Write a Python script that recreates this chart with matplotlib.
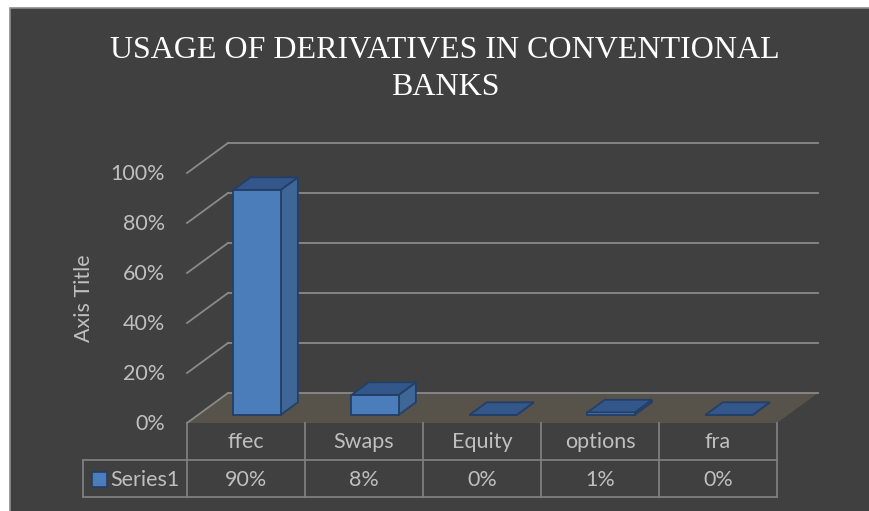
import matplotlib.pyplot as plt
from matplotlib.patches import Polygon, Rectangle

categories = ["ffec", "Swaps", "Equity", "options", "fra"]
values = [0.90, 0.08, 0.00, 0.01, 0.00]
value_labels = ["90%", "8%", "0%", "1%", "0%"]
ticks = [0.0, 0.2, 0.4, 0.6, 0.8, 1.0]
tick_labels = ["0%", "20%", "40%", "60%", "80%", "100%"]
series_name = "Series1"

# oblique 3D projection in pixel space (Excel style)
X0, Y0 = 187, 423        # front-left corner of floor
CW = 118                 # category width
VS = 250                 # pixels per 100%
DX, DY = 41, -30         # full depth offset
D1, D2 = 0.27, 0.69      # bar depth range
BW = 0.40                # bar width as fraction of category


def proj(c, v, d):
    return (X0 + c * CW + d * DX, Y0 - v * VS + d * DY)


bg = "#404040"
grid_c = "#8a8a8a"
txt_c = "#bfbfbf"
font_ui = ["Lato", "DejaVu Sans"]
fs = 15.5

fig = plt.figure(figsize=(8.69, 5.11), dpi=100, facecolor="white")
ax = fig.add_axes([0, 0, 1, 1])
ax.set_xlim(0, 869)
ax.set_ylim(511, 0)
ax.axis("off")

# chart area with white margin top/left
ax.add_patch(Rectangle((9.5, 8.5), 870, 510, facecolor=bg, edgecolor="#8c8c8c", lw=1.2, zorder=0))

n = len(categories)

# floor
floor = [proj(0, 0, 0), proj(n, 0, 0), proj(n, 0, 1), proj(0, 0, 1)]
ax.add_patch(Polygon(floor, closed=True, facecolor="#57534b", edgecolor="none", zorder=1))

# gridlines on back wall and left side wall
for t in ticks:
    a, b = proj(0, t, 1), proj(n, t, 1)
    ax.plot([a[0], b[0]], [a[1], b[1]], color=grid_c, lw=1.3, zorder=2)
    f = proj(0, t, 0)
    ax.plot([f[0], a[0]], [f[1], a[1]], color=grid_c, lw=1.3, zorder=2)

# bars
for i, v in enumerate(values):
    l = i + 0.5 - BW / 2
    r = i + 0.5 + BW / 2
    front = [proj(l, 0, D1), proj(r, 0, D1), proj(r, v, D1), proj(l, v, D1)]
    side = [proj(r, 0, D1), proj(r, 0, D2), proj(r, v, D2), proj(r, v, D1)]
    top = [proj(l, v, D1), proj(r, v, D1), proj(r, v, D2), proj(l, v, D2)]
    ec = "#233f66"
    ax.add_patch(Polygon(side, closed=True, facecolor="#3e6798", edgecolor=ec, lw=1.3, zorder=3))
    ax.add_patch(Polygon(front, closed=True, facecolor="#4b7dbb", edgecolor=ec, lw=1.3, zorder=4))
    ax.add_patch(Polygon(top, closed=True, facecolor="#33578a", edgecolor=ec, lw=1.3, zorder=5))

# value axis labels
for t, lab in zip(ticks, tick_labels):
    x, y = proj(0, t, 0)
    ax.text(x - 22, y + 1, lab, ha="right", va="center", color=txt_c, fontsize=fs, family=font_ui)

ax.text(84, 298, "Axis Title", rotation=90, ha="center", va="center", color=txt_c,
        fontsize=fs, family=font_ui)

# title
title_font = ["Liberation Serif", "DejaVu Serif"]
ax.text(445, 57.5, "USAGE OF DERIVATIVES IN CONVENTIONAL", ha="center", va="baseline",
        color="white", fontsize=23, family=title_font)
ax.text(445, 95, "BANKS", ha="center", va="baseline",
        color="white", fontsize=23, family=title_font)

# data table
row1, row2, row3 = Y0, 460, 497
tab_c = "#7f7f7f"
for k in range(n + 1):
    x = X0 + k * CW
    ax.plot([x, x], [row1, row3], color=tab_c, lw=1.3, zorder=2)
ax.plot([83, X0 + n * CW], [row2, row2], color=tab_c, lw=1.3)
ax.plot([83, X0 + n * CW], [row3, row3], color=tab_c, lw=1.3)
ax.plot([83, 83], [row2, row3], color=tab_c, lw=1.3)

for i, (c, vl) in enumerate(zip(categories, value_labels)):
    cx = X0 + (i + 0.5) * CW
    ax.text(cx, (row1 + row2) / 2 + 1, c, ha="center", va="center", color=txt_c, fontsize=fs, family=font_ui)
    ax.text(cx, (row2 + row3) / 2 + 1, vl, ha="center", va="center", color=txt_c, fontsize=fs, family=font_ui)

ax.add_patch(Rectangle((92, 472), 15, 15, facecolor="#4b7dbb", edgecolor="#233f66", lw=1.2))
ax.text(110, (row2 + row3) / 2 + 1, series_name, ha="left", va="center", color=txt_c, fontsize=fs, family=font_ui)

fig.savefig("out.png", dpi=100, facecolor="white")
